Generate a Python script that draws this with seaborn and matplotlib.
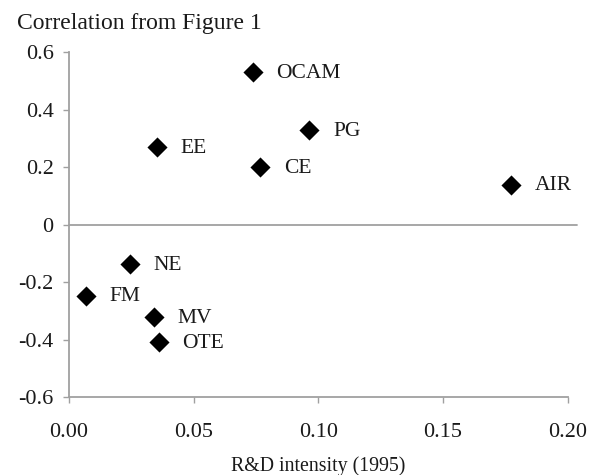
import seaborn as sns
import matplotlib.pyplot as plt
import pandas as pd

# industries, R&D intensity (1995) and correlation
industries = ["OCAM", "PG", "EE", "CE", "AIR", "NE", "FM", "MV", "OTE"]
rd_intensity = [0.0736, 0.0964, 0.0352, 0.0768, 0.1773, 0.0244, 0.0068, 0.0341, 0.0361]
correlation = [0.531, 0.329, 0.271, 0.201, 0.139, -0.137, -0.247, -0.322, -0.409]

x_ticks = [0.00, 0.05, 0.10, 0.15, 0.20]
y_ticks = [-0.6, -0.4, -0.2, 0, 0.2, 0.4, 0.6]
y_tick_labels = ["-0.6", "-0.4", "-0.2", "0", "0.2", "0.4", "0.6"]

df = pd.DataFrame({"industry": industries, "rd": rd_intensity, "corr": correlation})

sns.set_style("white")
plt.rcParams["font.family"] = ["Liberation Serif", "DejaVu Serif"]

fig = plt.figure(figsize=(5.89, 4.75), dpi=100)
ax = fig.add_axes([0.117, 0.164, 0.847, 0.7265])

sns.scatterplot(data=df, x="rd", y="corr", marker="D", s=105, color="black",
                edgecolor="black", linewidth=0, ax=ax, zorder=3)

for _, row in df.iterrows():
    ax.annotate(row["industry"], (row["rd"], row["corr"]), xytext=(17, -1),
                textcoords="offset points", va="center", ha="left",
                fontsize=15.5, color="#1a1a1a")

ax.axhline(0, xmin=0, xmax=1.018, color="#a0a0a0", lw=1.3, clip_on=False, zorder=1)

ax.set_xlim(0, 0.20)
ax.set_ylim(-0.6, 0.6)
ax.set_xticks(x_ticks)
ax.set_xticklabels([f"{v:.2f}" for v in x_ticks])
ax.set_yticks(y_ticks)
ax.set_yticklabels(y_tick_labels)

for side in ["top", "right"]:
    ax.spines[side].set_visible(False)
for side in ["left", "bottom"]:
    ax.spines[side].set_color("#a0a0a0")
    ax.spines[side].set_linewidth(1.3)

ax.tick_params(axis="both", direction="out", length=4, width=1, color="#a0a0a0",
               labelsize=16, labelcolor="#1a1a1a", left=True, bottom=True)
ax.tick_params(axis="x", pad=15)
ax.tick_params(axis="y", pad=7)

ax.set_xlabel("R&D intensity (1995)", fontsize=14.3, color="#1a1a1a", labelpad=10)
ax.set_ylabel("")
fig.text(17 / 589, 1 - 24 / 475, "Correlation from Figure 1", fontsize=17,
         color="#1a1a1a", ha="left", va="center")

fig.savefig("out.png", dpi=100)
